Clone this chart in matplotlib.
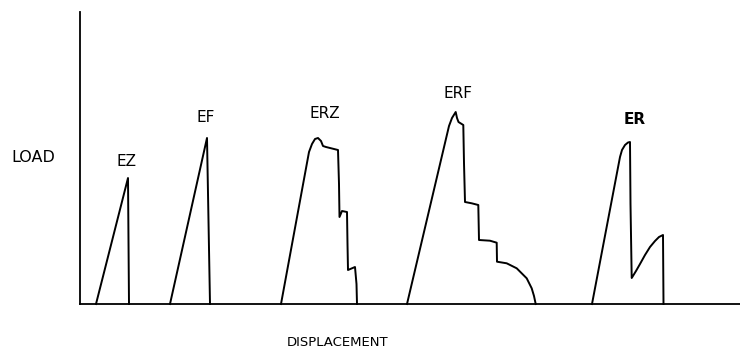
import matplotlib
matplotlib.use("Agg")
import matplotlib.pyplot as plt

# Specimen load-displacement traces (displacement, load in arbitrary units)
ez_x = [16, 48, 49]
ez_y = [0, 126, 0]

ef_x = [90, 127, 130]
ef_y = [0, 166, 0]

erz_x = [201, 229, 232, 235, 238, 241, 243, 246, 258, 259, 259.5, 262, 267, 267.5, 268, 275, 276.5, 277]
erz_y = [0, 152, 160, 165, 166, 163, 158, 157, 154, 120, 87, 93, 92, 60, 34, 37, 20, 0]

erf_x = [327, 369, 372, 375.7, 377, 378.5, 383.3, 384, 385, 391.7, 398.3, 399, 410, 416.7, 417,
         426.7, 436.7, 446.7, 451.7, 454, 455.7]
erf_y = [0, 178, 186, 192, 186, 182, 179, 141, 102, 100.7, 99, 64, 63.3, 61.3, 42.3,
         40.7, 35.7, 25.7, 15.7, 8, 0]

er_x = [512, 540, 542, 545, 548, 550, 550.5, 551.7, 556, 560, 565, 570, 575, 579, 583, 583.5]
er_y = [0, 147, 154, 159, 161.5, 162, 100, 26, 33, 40, 49, 57, 63, 67, 69, 0]

labels = ["EZ", "EF", "ERZ", "ERF", "ER"]
label_x = [46, 126, 245, 378, 555]
label_y = [143, 186, 190, 210, 185]

fig = plt.figure(figsize=(7.4, 3.52), dpi=100)
ax = fig.add_axes([80 / 740, 48 / 352, 660 / 740, 292 / 352])
ax.set_xlim(0, 660)
ax.set_ylim(0, 292)
for s in ["top", "right"]:
    ax.spines[s].set_visible(False)
for s in ["left", "bottom"]:
    ax.spines[s].set_linewidth(1.3)
    ax.spines[s].set_color("black")
ax.set_xticks([])
ax.set_yticks([])

lw = 1.4
for xs, ys in [(ez_x, ez_y), (ef_x, ef_y), (erz_x, erz_y), (erf_x, erf_y), (er_x, er_y)]:
    ax.plot(xs, ys, color="black", linewidth=lw, solid_joinstyle="round", clip_on=False)

for lab, lx, ly in zip(labels, label_x, label_y):
    ax.text(lx, ly, lab, ha="center", va="center", fontsize=11,
            family="DejaVu Sans", fontweight="bold" if lab == "ER" else "normal")

fig.text(11 / 740, 1 - 157 / 352, "LOAD", ha="left", va="center", fontsize=11.5,
         family="DejaVu Sans")
fig.text(338 / 740, 1 - 342 / 352, "DISPLACEMENT", ha="center", va="center", fontsize=9.5,
         family="DejaVu Sans")

fig.savefig("out.png", dpi=100, facecolor="white")
